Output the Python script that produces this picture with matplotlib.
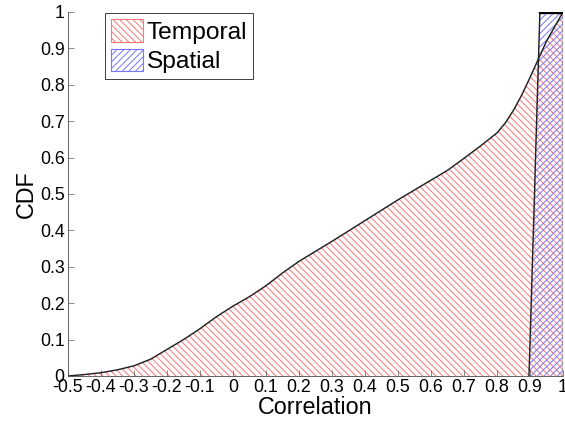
import numpy as np
import matplotlib
matplotlib.use("Agg")
import matplotlib.pyplot as plt
from matplotlib.patches import Patch

# CDF of per-pair correlation, temporal vs spatial
temporal_x = [-0.5, -0.45, -0.4, -0.35, -0.3, -0.25, -0.2, -0.15, -0.1, -0.05,
              0.0, 0.05, 0.1, 0.15, 0.2, 0.3, 0.4, 0.5, 0.6, 0.65, 0.7, 0.75,
              0.8, 0.825, 0.85, 0.875, 0.9, 0.925, 0.95, 0.975, 1.0]
temporal_cdf = [0.0, 0.004, 0.009, 0.017, 0.028, 0.046, 0.073, 0.1, 0.13, 0.163,
                0.192, 0.218, 0.248, 0.283, 0.315, 0.37, 0.427, 0.484, 0.538, 0.565,
                0.598, 0.632, 0.668, 0.695, 0.73, 0.772, 0.82, 0.87, 0.92, 0.96, 1.0]

spatial_x = [0.897, 0.905, 0.913, 0.92, 0.926, 0.93, 1.0]
spatial_cdf = [0.0, 0.24, 0.48, 0.7, 0.88, 1.0, 1.0]

xticks = [-0.5, -0.4, -0.3, -0.2, -0.1, 0, 0.1, 0.2, 0.3, 0.4, 0.5, 0.6, 0.7, 0.8, 0.9, 1]
yticks = [0, 0.1, 0.2, 0.3, 0.4, 0.5, 0.6, 0.7, 0.8, 0.9, 1]

plt.rcParams['font.family'] = ['Liberation Sans', 'DejaVu Sans']
plt.rcParams['axes.unicode_minus'] = False
plt.rcParams['hatch.linewidth'] = 0.9

DPI = 80
fig = plt.figure(figsize=(565 / DPI, 421 / DPI), dpi=DPI)
ax = fig.add_axes([68 / 565, 1 - 376 / 421, 495 / 565, 364 / 421])

red = '#ff7878'
blue = '#7878ff'

ax.fill_between(temporal_x, 0, temporal_cdf, facecolor='none',
                edgecolor=red, hatch='\\\\\\\\', linewidth=0)
ax.fill_between(spatial_x, 0, spatial_cdf, facecolor='none',
                edgecolor=blue, hatch='////', linewidth=0)

ax.plot(temporal_x, temporal_cdf, color='#222222', lw=1.3)
ax.plot(spatial_x[:-1], spatial_cdf[:-1], color='#222222', lw=1.3)
ax.plot(spatial_x[-2:], spatial_cdf[-2:], color='black', lw=3)
ax.plot([1.0, 1.0], [0, 1.0], color='#222222', lw=1.3)

ax.set_xlim(-0.5, 1.0)
ax.set_ylim(0, 1.0)
ax.set_xticks(xticks)
ax.set_xticklabels([f'{t:g}' for t in xticks])
ax.set_yticks(yticks)
ax.set_yticklabels([f'{t:g}' for t in yticks])
ax.tick_params(direction='in', length=5, width=0.6, color='#555555',
               labelsize=16, pad=3)
for side in ('top', 'right'):
    ax.spines[side].set_visible(False)
for side in ('left', 'bottom'):
    ax.spines[side].set_color('#555555')
    ax.spines[side].set_linewidth(0.8)

ax.set_xlabel('Correlation', fontsize=21, labelpad=0)
ax.set_ylabel('CDF', fontsize=21, labelpad=2)

handles = [Patch(facecolor='white', edgecolor=red, hatch='\\\\\\\\', label='Temporal'),
           Patch(facecolor='white', edgecolor=blue, hatch='////', label='Spatial')]
leg = fig.legend(handles=handles, loc='upper left',
                 bbox_to_anchor=(105 / 565, 1 - 13 / 421),
                 fontsize=22, handlelength=1.3, handleheight=1.05,
                 handletextpad=0.15, borderpad=0.25, labelspacing=0.2,
                 borderaxespad=0, fancybox=False, framealpha=1)
leg.get_frame().set_edgecolor('#444444')
leg.get_frame().set_linewidth(0.9)

fig.savefig('out.png', dpi=DPI)
